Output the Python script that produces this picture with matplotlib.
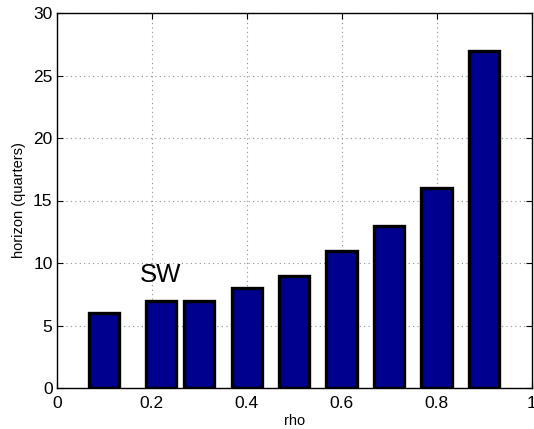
import matplotlib
matplotlib.use("Agg")
import matplotlib.pyplot as plt

rho = [0.1, 0.22, 0.3, 0.4, 0.5, 0.6, 0.7, 0.8, 0.9]
horizon = [6, 7, 7, 8, 9, 11, 13, 16, 27]
xticks = [0, 0.2, 0.4, 0.6, 0.8, 1]
yticks = [0, 5, 10, 15, 20, 25, 30]

plt.rcParams['font.family'] = ['Liberation Sans', 'DejaVu Sans']

fig = plt.figure(figsize=(5.34, 4.29), dpi=100)
ax = fig.add_axes([56.7 / 534, 1 - 388 / 429, 475 / 534, 375 / 429])

ax.bar(rho, horizon, width=0.064, color='#00008f', edgecolor='black',
       linewidth=2.4, zorder=3)

ax.set_xlim(0, 1)
ax.set_ylim(0, 30)
ax.set_xticks(xticks)
ax.set_xticklabels([f"{t:g}" for t in xticks])
ax.set_yticks(yticks)
ax.tick_params(direction='in', top=True, right=True, labelsize=12.5,
               length=4, width=0.8)
ax.tick_params(axis='x', pad=6)
ax.tick_params(axis='y', pad=3)
ax.grid(True, linestyle=(0, (1, 3)), color='#909090', linewidth=0.8, zorder=0)
for s in ax.spines.values():
    s.set_linewidth(1.0)

ax.set_xlabel('rho', fontsize=10.5, labelpad=2)
ax.set_ylabel('horizon (quarters)', fontsize=10.5, labelpad=5)

ax.text(0.175, 8.1, 'SW', fontsize=18.5, ha='left', va='bottom', zorder=4)

fig.savefig('out.png', dpi=100)
